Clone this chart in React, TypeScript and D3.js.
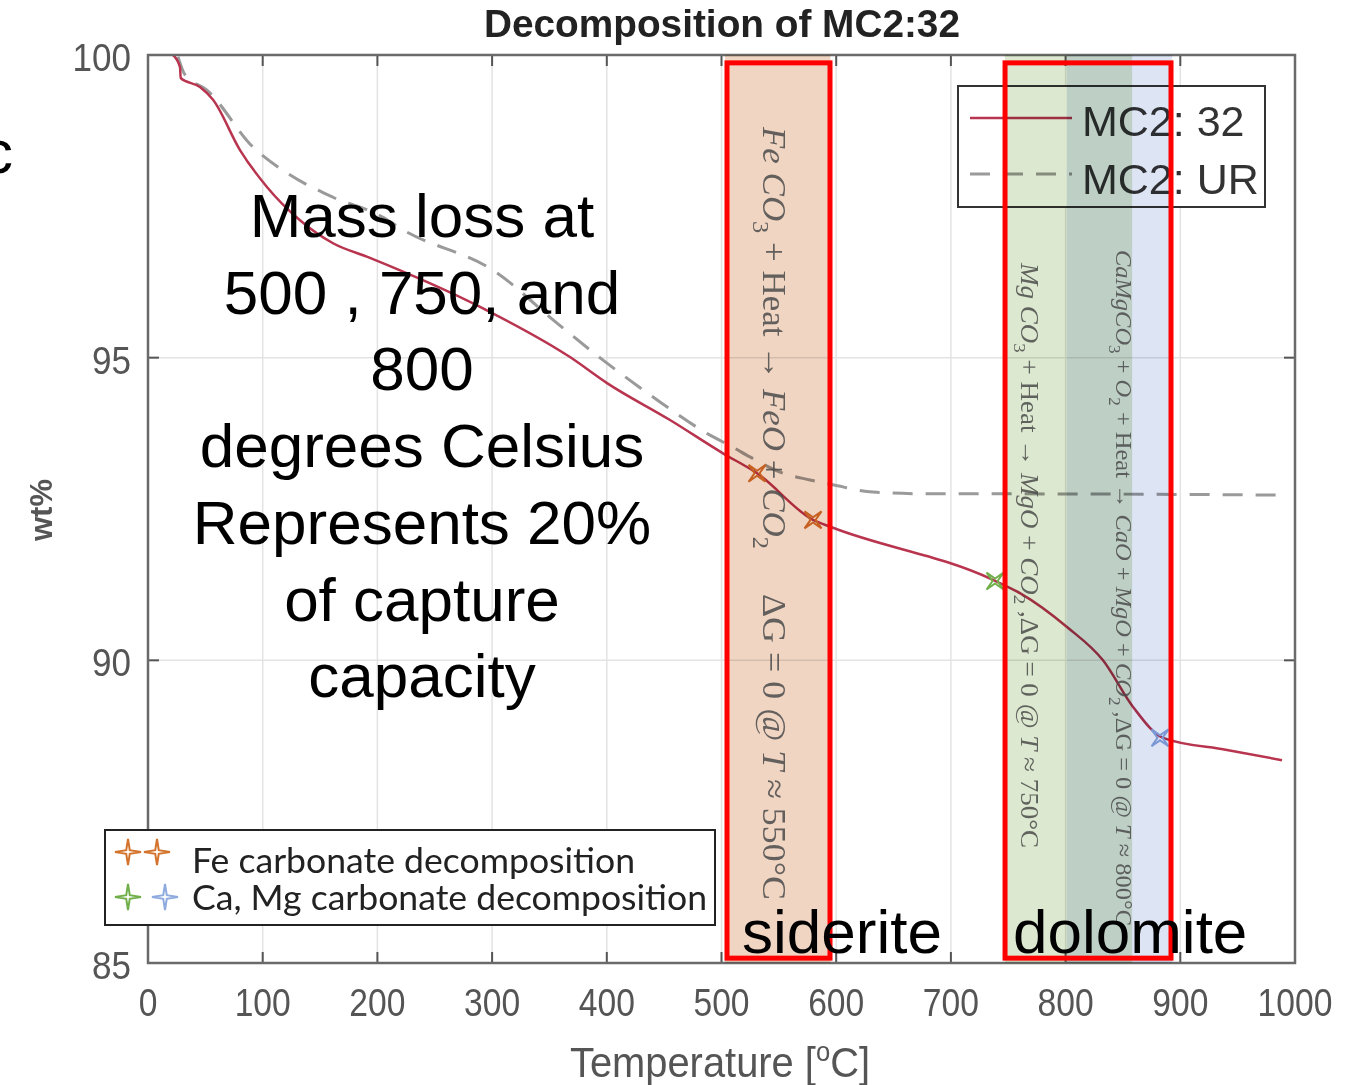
import React from 'react'
import * as d3 from 'd3'

// MC2:32 TGA curve
const tempMC32 = [21.8, 27.9, 28.5, 45.3, 56.7, 80.2, 103.7, 132.5, 161.3, 193.5, 289.5, 367.9, 400.2, 455.1, 501.3, 531, 579.8, 597.2, 736.7, 760.2, 801.2, 832.6, 858.8, 884.9, 940.7, 988.7]
const wtMC32 = [100.0, 99.8, 99.62, 99.47, 99.26, 98.43, 97.82, 97.27, 96.89, 96.65, 95.84, 95.01, 94.58, 93.97, 93.42, 93.09, 92.32, 92.19, 91.33, 91.11, 90.55, 90.0, 89.23, 88.72, 88.52, 88.35]

// MC2:UR reference curve
const tempUR = [26.2, 32.3, 51.4, 91.5, 121.2, 161.3, 204.9, 219.7, 304.3, 356.6, 396.7, 440.3, 490.0, 510.0, 524.8, 553.6, 577.2, 597.2, 632.1, 684.4, 757.6, 987]
const wtUR = [99.97, 99.67, 99.42, 98.48, 98.05, 97.65, 97.32, 97.14, 96.4, 95.57, 94.96, 94.35, 93.72, 93.52, 93.36, 93.09, 92.98, 92.9, 92.78, 92.75, 92.75, 92.73]

// decomposition markers
const feStarT = [531, 579.8]
const feStarW = [93.09, 92.32]
const mgStarT = [738.5]
const mgStarW = [91.31]
const caStarT = [882.3]
const caStarW = [88.72]

// shaded reaction ranges (°C)
const feBand = [503, 595]
const mgBand = [747, 858]
const caBand = [801, 893]

// red annotation boxes (°C, wt%)
const sideriteBox = [504.8, 594.6]
const dolomiteBox = [747.2, 891.9]
const boxWt = [85.08, 99.87]

const xTicks = [0, 100, 200, 300, 400, 500, 600, 700, 800, 900, 1000]
const yTicks = [85, 90, 95, 100]

const noteLines = ['Mass loss at', '500 , 750, and', '800', 'degrees Celsius', 'Represents 20%', 'of capture', 'capacity']

type Part = { t: string, i?: boolean, sub?: boolean }

const eqFe1: Part[] = [{ t: 'Fe CO', i: true }, { t: '3', sub: true }, { t: ' + Heat → ' }, { t: 'FeO', i: true }, { t: ' + ' }, { t: 'CO', i: true }, { t: '2', sub: true }]
const eqFe2: Part[] = [{ t: 'ΔG = 0 @ ' }, { t: 'T', i: true }, { t: ' ≈ 550°C' }]
const eqMg: Part[] = [{ t: 'Mg CO', i: true }, { t: '3', sub: true }, { t: ' + Heat → ' }, { t: 'MgO', i: true }, { t: ' + ' }, { t: 'CO', i: true }, { t: '2', sub: true }, { t: ' ,ΔG = 0 @ ' }, { t: 'T', i: true }, { t: ' ≈ 750°C' }]
const eqCa: Part[] = [{ t: 'CaMgCO', i: true }, { t: '3', sub: true }, { t: ' + ' }, { t: 'O', i: true }, { t: '2', sub: true }, { t: ' + Heat → ' }, { t: 'CaO', i: true }, { t: ' + ' }, { t: 'MgO', i: true }, { t: ' + ' }, { t: 'CO', i: true }, { t: '2', sub: true }, { t: ' ,ΔG = 0 @ ' }, { t: 'T', i: true }, { t: ' ≈ 800°C' }]

const sans = "'Liberation Sans', Arial, sans-serif"
const serif = "'Liberation Serif', 'DejaVu Serif', serif"

function starPath (R: number, r: number, rot: number) {
  const pts = d3.range(8).map(i => {
    const a = rot + i * Math.PI / 4
    const rad = i % 2 === 0 ? R : r
    return [rad * Math.sin(a), -rad * Math.cos(a)] as [number, number]
  })
  return d3.line()(pts) + 'Z'
}

function Equation ({ parts, px, py, size, len }: { parts: Part[], px: number, py: number, size: number, len: number }) {
  let shifted = false
  const spans = parts.map((p, k) => {
    let dy = 0
    if (p.sub && !shifted) { dy = size * 0.28; shifted = true }
    if (!p.sub && shifted) { dy = -size * 0.28; shifted = false }
    return (
      <tspan key={k} dy={dy} fontStyle={p.i ? 'italic' : 'normal'} fontSize={p.sub ? size * 0.7 : size}>{p.t}</tspan>
    )
  })
  return (
    <text transform={`translate(${px},${py}) rotate(90)`} fontFamily={serif} fontSize={size}
      fill='#4a4a4a' fillOpacity={0.85} textLength={len} lengthAdjust='spacingAndGlyphs'>
      {spans}
    </text>
  )
}

export default function App () {
  const width = 1365
  const height = 1085
  const x = d3.scaleLinear().domain([0, 1000]).range([148, 1295])
  const y = d3.scaleLinear().domain([85, 100]).range([963, 55])

  const line = d3.line<[number, number]>()
    .x(d => x(d[0]))
    .y(d => y(d[1]))
    .curve(d3.curveMonotoneX)

  const mc32 = tempMC32.map((t, i) => [t, wtMC32[i]] as [number, number])
  const ur = tempUR.map((t, i) => [t, wtUR[i]] as [number, number])

  const [x0, x1] = x.range()
  const [y0, y1] = y.range()

  const plotStar = starPath(12, 2.5, Math.PI / 4)
  const legendStar = starPath(13, 2.5, 0)
  const blend = { mixBlendMode: 'multiply' as const }

  return (
    <div style={{ position: 'absolute', left: 0, top: 0 }}>
      <svg width={width} height={height} style={{ display: 'block', background: '#fff' }}>
        {/* grid */}
        <g stroke='#e3e3e3' strokeWidth={1.5}>
          {xTicks.slice(1, -1).map(t => <line key={'gx' + t} x1={x(t)} x2={x(t)} y1={y1} y2={y0} />)}
          {yTicks.slice(1, -1).map(t => <line key={'gy' + t} x1={x0} x2={x1} y1={y(t)} y2={y(t)} />)}
        </g>

        {/* curves */}
        <path d={line(ur) || ''} fill='none' stroke='#9a9a9a' strokeWidth={3} strokeDasharray='20,13' />
        <path d={line(mc32) || ''} fill='none' stroke='#b8344f' strokeWidth={2.5} />

        {/* markers */}
        <g fill='none' strokeWidth={2}>
          {feStarT.map((t, i) => <path key={'fe' + i} d={plotStar} transform={`translate(${x(t)},${y(feStarW[i])})`} stroke='#d4742c' />)}
          {mgStarT.map((t, i) => <path key={'mg' + i} d={plotStar} transform={`translate(${x(t)},${y(mgStarW[i])})`} stroke='#72b04c' />)}
          {caStarT.map((t, i) => <path key={'ca' + i} d={plotStar} transform={`translate(${x(t)},${y(caStarW[i])})`} stroke='#8eaadf' />)}
        </g>

        {/* ticks */}
        <g stroke='#555' strokeWidth={2}>
          {xTicks.map(t => <line key={'tb' + t} x1={x(t)} x2={x(t)} y1={y0} y2={y0 - 11} />)}
          {xTicks.map(t => <line key={'tt' + t} x1={x(t)} x2={x(t)} y1={y1} y2={y1 + 11} />)}
          {yTicks.map(t => <line key={'tl' + t} x1={x0} x2={x0 + 11} y1={y(t)} y2={y(t)} />)}
          {yTicks.map(t => <line key={'tr' + t} x1={x1} x2={x1 - 11} y1={y(t)} y2={y(t)} />)}
        </g>
        <rect x={x0} y={y1} width={x1 - x0} height={y0 - y1} fill='none' stroke='#6a6a6a' strokeWidth={2.5} />

        {/* tick labels (condensed look) */}
        <g fontFamily={sans} fontSize={39} fill='#555'>
          {xTicks.map(t => (
            <text key={'lx' + t} x={x(t)} y={1016} textAnchor='middle'
              textLength={String(t).length * 18.7} lengthAdjust='spacingAndGlyphs'>{t}</text>
          ))}
          {yTicks.map(t => (
            <text key={'ly' + t} x={131} y={y(t) + 16} textAnchor='end'
              textLength={String(t).length * 19.5} lengthAdjust='spacingAndGlyphs'>{t}</text>
          ))}
        </g>
        <text x={720} y={1077} textAnchor='middle' fontFamily={sans} fontSize={42} fill='#555'
          textLength={300} lengthAdjust='spacingAndGlyphs'>
          Temperature [<tspan dy={-16} fontSize={27}>o</tspan><tspan dy={16}>C]</tspan>
        </text>
        <text transform='translate(52,510) rotate(-90)' textAnchor='middle' fontFamily={sans} fontSize={31} fontWeight='bold' fill='#555'>wt%</text>

        {/* title */}
        <text x={722} y={37} textAnchor='middle' fontFamily={sans} fontWeight='bold' fontSize={38} fill='#222'
          textLength={476} lengthAdjust='spacingAndGlyphs'>Decomposition of MC2:32</text>

        {/* series legend */}
        <rect x={958} y={86} width={307} height={121} fill='#fff' stroke='#333' strokeWidth={2} />
        <line x1={970} x2={1072} y1={118} y2={118} stroke='#b8344f' strokeWidth={2.5} />
        <line x1={970} x2={1072} y1={174} y2={174} stroke='#9a9a9a' strokeWidth={3} strokeDasharray='20,13' />
        <text x={1082} y={136} fontFamily={sans} fontSize={43} fill='#333'>MC2: 32</text>
        <text x={1082} y={194} fontFamily={sans} fontSize={43} fill='#333'>MC2: UR</text>

        {/* marker legend */}
        <rect x={105} y={830} width={610} height={95} fill='#fff' stroke='#222' strokeWidth={2} />
        <g fill='none' strokeWidth={2}>
          <path d={legendStar} transform='translate(128,852)' stroke='#d4742c' />
          <path d={legendStar} transform='translate(157,852)' stroke='#d4742c' />
          <path d={legendStar} transform='translate(128,897)' stroke='#72b04c' />
          <path d={legendStar} transform='translate(165,897)' stroke='#8eaadf' />
        </g>
        <g fontFamily="Lato, 'Noto Sans', sans-serif" fontSize={35} fill='#222'>
          <text x={192} y={873} textLength={443} lengthAdjust='spacingAndGlyphs'>Fe carbonate decomposition</text>
          <text x={192} y={910} textLength={515} lengthAdjust='spacingAndGlyphs'>Ca, Mg carbonate decomposition</text>
        </g>

        {/* reaction bands */}
        <rect x={x(feBand[0])} y={y1} width={x(feBand[1]) - x(feBand[0])} height={y0 - y1} fill='#f0d5c3' style={blend} />
        <rect x={x(mgBand[0])} y={y1} width={x(mgBand[1]) - x(mgBand[0])} height={y0 - y1} fill='#dce8cf' style={blend} />
        <rect x={x(caBand[0])} y={y1} width={x(caBand[1]) - x(caBand[0])} height={y0 - y1} fill='#dde4f4' style={blend} />

        <Equation parts={eqFe1} px={763} py={127} size={34} len={422} />
        <Equation parts={eqFe2} px={763} py={594} size={34} len={306} />
        <Equation parts={eqMg} px={1021} py={263} size={25} len={585} />
        <Equation parts={eqCa} px={1116} py={250} size={24} len={676} />

        {/* red annotation boxes */}
        <g fill='none' stroke='#ff0000' strokeWidth={5}>
          <rect x={x(sideriteBox[0])} y={y(boxWt[1])} width={x(sideriteBox[1]) - x(sideriteBox[0])} height={y(boxWt[0]) - y(boxWt[1])} />
          <rect x={x(dolomiteBox[0])} y={y(boxWt[1])} width={x(dolomiteBox[1]) - x(dolomiteBox[0])} height={y(boxWt[0]) - y(boxWt[1])} />
        </g>

        {/* slide annotations */}
        <g fontFamily={sans} fontSize={62} fill='#000'>
          {noteLines.map((s, i) => <text key={s} x={422} y={237 + i * 76.7} textAnchor='middle'>{s}</text>)}
          <text x={742} y={953}>siderite</text>
          <text x={1013} y={953}>dolomite</text>
          <text x={-18} y={173}>c</text>
        </g>
      </svg>
    </div>
  )
}
